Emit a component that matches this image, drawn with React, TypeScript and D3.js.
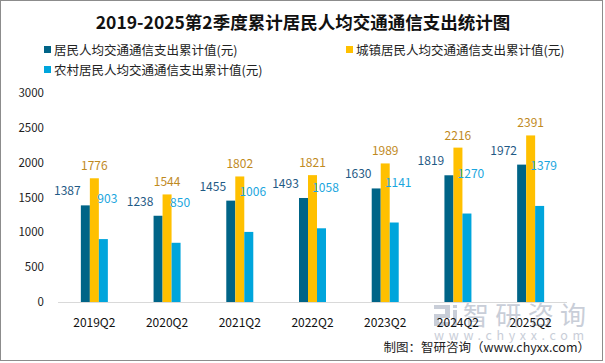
import React from "react";
import { scaleBand, scaleLinear } from "d3";

const categories = ["2019Q2", "2020Q2", "2021Q2", "2022Q2", "2023Q2", "2024Q2", "2025Q2"];
const totalValues = [1387, 1238, 1455, 1493, 1630, 1819, 1972];
const urbanValues = [1776, 1544, 1802, 1821, 1989, 2216, 2391];
const ruralValues = [903, 850, 1006, 1058, 1141, 1270, 1379];
const seriesNames = [
  "居民人均交通通信支出累计值(元)",
  "城镇居民人均交通通信支出累计值(元)",
  "农村居民人均交通通信支出累计值(元)",
];
const yTicks = [0, 500, 1000, 1500, 2000, 2500, 3000];

const W = 605;
const H = 363;
const FONT = "'Noto Sans CJK SC', 'Liberation Sans', sans-serif";

export default function App() {
  const x = scaleBand().domain(categories).range([58, 567]);
  const y = scaleLinear().domain([0, 3000]).range([302, 93]);
  const bw = 9;

  // bar colour, label colour, label offset (dx, dy from bar top)
  const series = [
    { name: seriesNames[0], values: totalValues, fill: "#006487", text: "#1f5a85", off: -bw, dx: -18, dy: -14 },
    { name: seriesNames[1], values: urbanValues, fill: "#ffc000", text: "#bf8a1e", off: 0, dx: 0, dy: -12 },
    { name: seriesNames[2], values: ruralValues, fill: "#00a5dc", text: "#1aa6de", off: bw, dx: 4, dy: -40 },
  ];

  const legend = [
    { i: 0, lx: 48, ly: 50 },
    { i: 1, lx: 350, ly: 50 },
    { i: 2, lx: 48, ly: 70 },
  ];

  return (
    <svg width={W} height={H} style={{ position: "absolute", left: 0, top: 0, background: "#fff" }} fontFamily={FONT}>
      <rect x={0.5} y={0.5} width={W - 3} height={H - 3} fill="#fff" stroke="#8c8c8c" />
      <text x={303} y={29} textAnchor="middle" fontSize={17.5} fontWeight="bold" fill="#111">
        2019-2025第2季度累计居民人均交通通信支出统计图
      </text>

      {legend.map((l) => (
        <g key={l.i}>
          <rect x={l.lx - 4} y={l.ly - 4} width={7} height={7} fill={series[l.i].fill} />
          <text x={l.lx + 6} y={l.ly + 4.5} fontSize={12.5} fill="#222">
            {series[l.i].name}
          </text>
        </g>
      ))}

      {/* watermark */}
      <g fill="#c9ced8">
        <path d="M434 305 h16 v13 h-11 v4 h11 v4 h-16 v-12 h11 v-5 h-11 z" />
        <rect x={453} y={305} width={4} height={3} />
        <rect x={453} y={310} width={4} height={16} />
        <text x={463} y={325} fontSize={26} textLength={123} lengthAdjust="spacing">智研咨询</text>
        <text x={434} y={340} fontSize={12.5} textLength={150} lengthAdjust="spacing">www.chyxx.com</text>
      </g>

      {yTicks.map((t) => (
        <text key={t} x={44} y={y(t) + 4} textAnchor="end" fontSize={11.5} fill="#222">
          {t}
        </text>
      ))}
      <line x1={58} x2={567} y1={302.5} y2={302.5} stroke="#d9d9d9" />

      {series.map((s) =>
        categories.map((c, i) => {
          const cx = (x(c) as number) + x.bandwidth() / 2 + s.off;
          return (
            <rect key={s.name + c} x={cx - bw / 2} y={y(s.values[i])} width={bw} height={y(0) - y(s.values[i])} fill={s.fill} />
          );
        })
      )}
      {series.map((s) =>
        categories.map((c, i) => {
          const cx = (x(c) as number) + x.bandwidth() / 2 + s.off;
          return (
            <text key={"l" + s.name + c} x={cx + s.dx} y={y(s.values[i]) + s.dy + 4} textAnchor="middle" fontSize={12} fill={s.text}>
              {s.values[i]}
            </text>
          );
        })
      )}

      {categories.map((c) => (
        <text key={c} x={(x(c) as number) + x.bandwidth() / 2} y={327} textAnchor="middle" fontSize={12} fill="#111">
          {c}
        </text>
      ))}

      <text x={590} y={352} textAnchor="end" fontSize={12.5} fill="#222">
        制图：智研咨询（www.chyxx.com）
      </text>
    </svg>
  );
}
